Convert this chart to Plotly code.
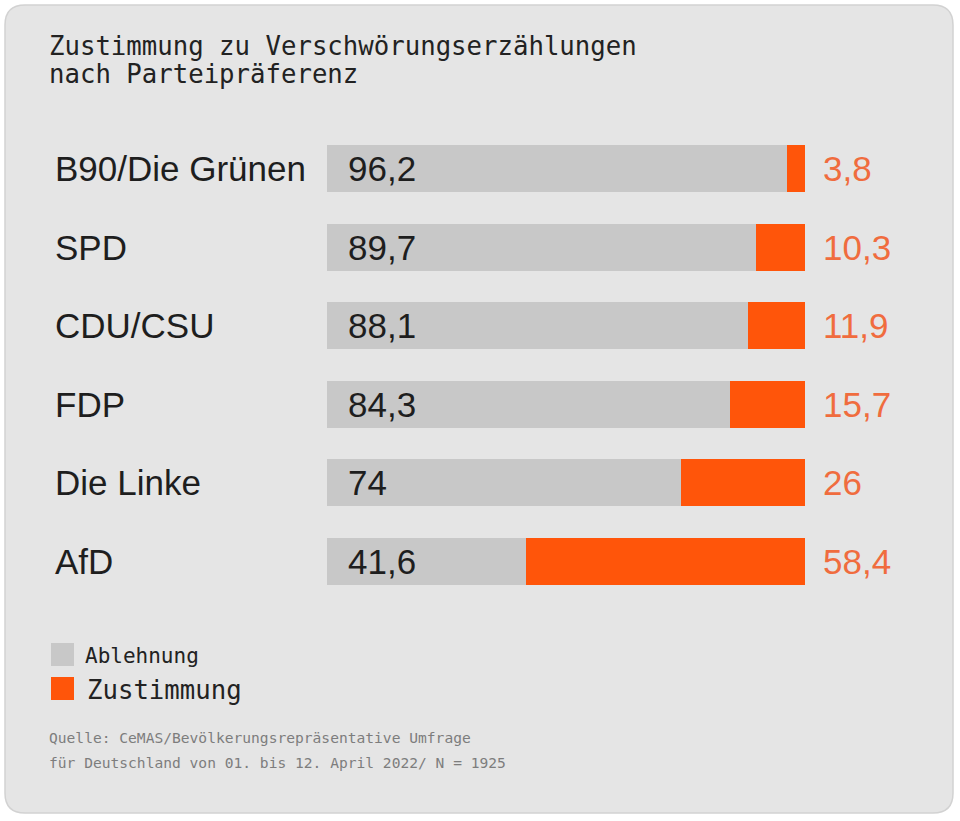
import plotly.graph_objects as go

parteien = ["B90/Die Grünen", "SPD", "CDU/CSU", "FDP", "Die Linke", "AfD"]
ablehnung = [96.2, 89.7, 88.1, 84.3, 74, 41.6]
zustimmung = [3.8, 10.3, 11.9, 15.7, 26, 58.4]
ablehnung_txt = ["96,2", "89,7", "88,1", "84,3", "74", "41,6"]
zustimmung_txt = ["3,8", "10,3", "11,9", "15,7", "26", "58,4"]

W, H = 960, 821
GRAU = "#c8c8c8"
ORANGE = "#ff550a"
ORANGE_TXT = "#f06c3e"
MONO = "DejaVu Sans Mono"
SANS = "Liberation Sans"


def px(x):
    return x / W


def py(y):
    return 1 - y / H


fig = go.Figure()
fig.add_trace(go.Bar(y=parteien, x=ablehnung, orientation="h", name="Ablehnung",
                     marker=dict(color=GRAU, line=dict(width=0)), hoverinfo="x+y"))
fig.add_trace(go.Bar(y=parteien, x=zustimmung, orientation="h", name="Zustimmung",
                     marker=dict(color=ORANGE, line=dict(width=0)), hoverinfo="x+y"))

# card background with rounded corners
x0, x1, y0, y1, r = 5, 953, 5, 813, 20
card = (f"M {px(x0 + r)} {py(y0)} L {px(x1 - r)} {py(y0)} "
        f"Q {px(x1)} {py(y0)} {px(x1)} {py(y0 + r)} L {px(x1)} {py(y1 - r)} "
        f"Q {px(x1)} {py(y1)} {px(x1 - r)} {py(y1)} L {px(x0 + r)} {py(y1)} "
        f"Q {px(x0)} {py(y1)} {px(x0)} {py(y1 - r)} L {px(x0)} {py(y0 + r)} "
        f"Q {px(x0)} {py(y0)} {px(x0 + r)} {py(y0)} Z")
shapes = [dict(type="path", path=card, xref="paper", yref="paper",
               fillcolor="#e5e5e5", line=dict(color="#d2d2d2", width=1.5), layer="below")]

# legend squares
shapes.append(dict(type="rect", xref="paper", yref="paper", x0=px(51), x1=px(74),
                   y0=py(666), y1=py(643), fillcolor=GRAU, line=dict(width=0)))
shapes.append(dict(type="rect", xref="paper", yref="paper", x0=px(51), x1=px(74),
                   y0=py(700), y1=py(677), fillcolor=ORANGE, line=dict(width=0)))

annotations = [
    dict(text="Zustimmung zu Verschwörungserzählungen", x=px(47), y=py(46),
         font=dict(family=MONO, size=25.7, color="#222222")),
    dict(text="nach Parteipräferenz", x=px(47), y=py(74),
         font=dict(family=MONO, size=25.7, color="#222222")),
    dict(text="Ablehnung", x=px(83), y=py(656),
         font=dict(family=MONO, size=21, color="#222222")),
    dict(text="Zustimmung", x=px(85), y=py(690),
         font=dict(family=MONO, size=25.7, color="#222222")),
    dict(text="Quelle: CeMAS/Bevölkerungsrepräsentative Umfrage", x=px(47), y=py(737),
         font=dict(family=MONO, size=14.6, color="#7d7d7d")),
    dict(text="für Deutschland von 01. bis 12. April 2022/ N = 1925", x=px(47), y=py(762),
         font=dict(family=MONO, size=14.6, color="#7d7d7d")),
]
for a in annotations:
    a.update(xref="paper", yref="paper", xanchor="left", yanchor="middle", showarrow=False)

for p, a, z, at, zt in zip(parteien, ablehnung, zustimmung, ablehnung_txt, zustimmung_txt):
    annotations.append(dict(text=p, xref="paper", x=px(53), yref="y", y=p, xanchor="left",
                            yanchor="middle", showarrow=False,
                            font=dict(family=SANS, size=35, color="#1e1e1e")))
    annotations.append(dict(text=at, xref="x", x=0, xshift=19, yref="y", y=p, xanchor="left",
                            yanchor="middle", showarrow=False,
                            font=dict(family=SANS, size=35, color="#1e1e1e")))
    annotations.append(dict(text=zt, xref="x", x=a + z, xshift=16, yref="y", y=p, xanchor="left",
                            yanchor="middle", showarrow=False,
                            font=dict(family=SANS, size=35, color=ORANGE_TXT)))

fig.update_layout(
    width=W, height=H,
    margin=dict(l=0, r=0, t=0, b=0),
    paper_bgcolor="white",
    plot_bgcolor="rgba(0,0,0,0)",
    barmode="stack",
    bargap=0.4,
    showlegend=False,
    shapes=shapes,
    annotations=annotations,
    xaxis=dict(domain=[px(327), px(805)], range=[0, 100], visible=False, fixedrange=True),
    yaxis=dict(domain=[py(600.8), py(129.2)], autorange="reversed", visible=False,
               fixedrange=True),
)

# page has a default body margin; drop it so the figure sits at the window origin
fig.write_html("out.html", config={"displayModeBar": False},
               post_script="document.body.style.margin='0';")
